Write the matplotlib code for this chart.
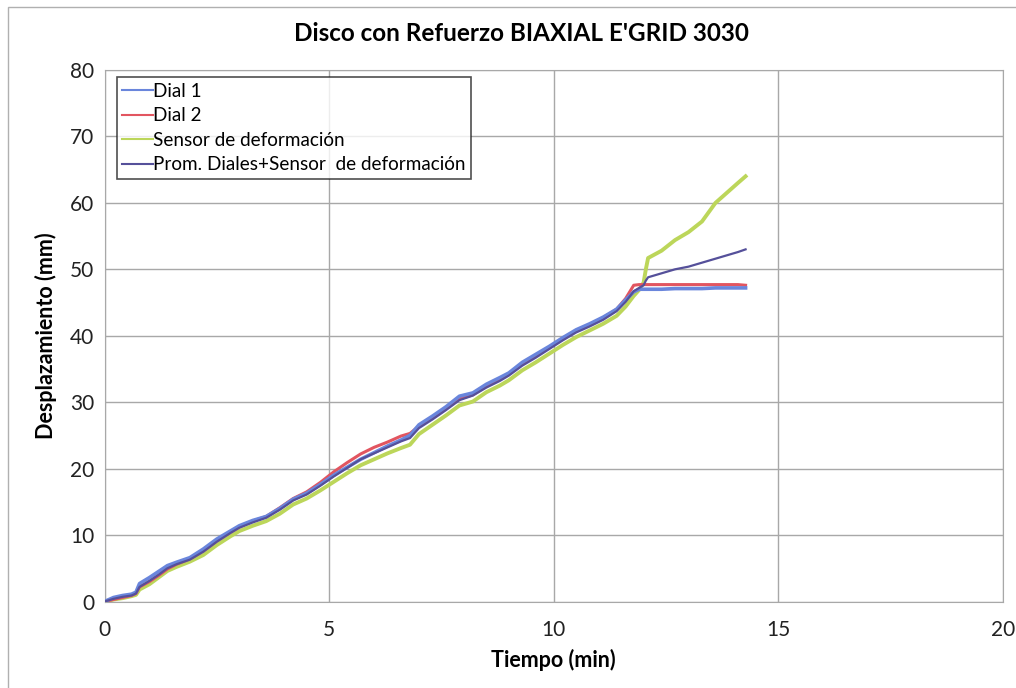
import matplotlib.pyplot as plt
from matplotlib.patches import Rectangle

# time (min) shared by all series
tiempo = [0, 0.2, 0.4, 0.6, 0.7, 0.78, 1.0, 1.2, 1.4, 1.6, 1.9, 2.2, 2.5, 2.8,
          3.0, 3.3, 3.6, 3.9, 4.2, 4.5, 4.8, 5.1, 5.4, 5.7, 6.0, 6.3, 6.6, 6.8,
          7.0, 7.3, 7.6, 7.9, 8.2, 8.5, 8.8, 9.0, 9.3, 9.6, 9.9, 10.2, 10.5,
          10.8, 11.1, 11.4, 11.6, 11.78, 11.9, 12.0, 12.05, 12.1, 12.4, 12.7,
          13.0, 13.3, 13.6, 13.9, 14.1, 14.27]

dial_1 = [0, 0.6, 0.9, 1.1, 1.4, 2.7, 3.6, 4.5, 5.4, 5.9, 6.6, 7.9, 9.4, 10.6,
          11.4, 12.2, 12.8, 14.0, 15.4, 16.3, 17.6, 19.0, 20.2, 21.4, 22.4,
          23.4, 24.3, 25.0, 26.6, 27.9, 29.3, 30.9, 31.4, 32.7, 33.7, 34.4,
          36.0, 37.2, 38.4, 39.7, 40.9, 41.8, 42.8, 44.0, 45.4, 46.6, 47.0,
          47.0, 47.0, 47.0, 47.0, 47.1, 47.1, 47.1, 47.2, 47.2, 47.2, 47.2]

dial_2 = [0, 0.3, 0.6, 0.9, 1.2, 2.2, 3.0, 3.9, 4.9, 5.6, 6.4, 7.6, 9.1, 10.4,
          11.2, 12.1, 12.8, 14.1, 15.5, 16.5, 17.9, 19.5, 20.9, 22.2, 23.2,
          24.0, 24.9, 25.3, 26.4, 27.6, 29.0, 30.5, 31.1, 32.4, 33.4, 34.2,
          35.8, 37.0, 38.2, 39.5, 40.7, 41.6, 42.7, 44.0, 45.6, 47.6, 47.7,
          47.7, 47.7, 47.7, 47.7, 47.7, 47.7, 47.7, 47.7, 47.7, 47.7, 47.6]

sensor = [0, 0.3, 0.5, 0.8, 1.0, 1.8, 2.6, 3.6, 4.6, 5.2, 6.0, 7.0, 8.5, 9.8,
          10.6, 11.4, 12.1, 13.2, 14.6, 15.5, 16.7, 18.0, 19.3, 20.5, 21.4,
          22.3, 23.1, 23.6, 25.2, 26.6, 28.0, 29.5, 30.1, 31.5, 32.5, 33.3,
          34.8, 36.0, 37.3, 38.6, 39.8, 40.8, 41.8, 43.0, 44.4, 46.0, 46.9,
          48.0, 50.0, 51.7, 52.8, 54.4, 55.6, 57.2, 60.0, 61.8, 63.0, 64.0]

promedio = [0, 0.4, 0.7, 0.9, 1.2, 2.2, 3.1, 4.0, 5.0, 5.6, 6.3, 7.5, 9.0, 10.3,
            11.1, 11.9, 12.6, 13.8, 15.2, 16.1, 17.4, 18.8, 20.1, 21.4, 22.3,
            23.2, 24.1, 24.6, 26.1, 27.4, 28.8, 30.3, 31.0, 32.2, 33.2, 34.0,
            35.5, 36.7, 38.0, 39.3, 40.5, 41.4, 42.4, 43.7, 45.1, 46.7, 47.2,
            47.6, 48.3, 48.8, 49.4, 50.0, 50.4, 51.0, 51.6, 52.2, 52.6, 53.0]

series = [
    ('Dial 1', dial_1, '#6a86dc', 2.6),
    ('Dial 2', dial_2, '#e25560', 2.2),
    ('Sensor de deformación', sensor, '#bcd65a', 2.8),
    ('Prom. Diales+Sensor  de deformación', promedio, '#55509a', 1.6),
]

plt.rcParams['font.family'] = ['Lato', 'DejaVu Sans']

fig = plt.figure(figsize=(10.16, 6.88), dpi=100)
ax = fig.add_axes([104.5 / 1016, 1 - 601.5 / 688, (1003 - 104.5) / 1016, (601.5 - 70) / 688])

# z-order so the blue sits on top like in the picture
order = {'Dial 1': 4, 'Dial 2': 3, 'Sensor de deformación': 2,
         'Prom. Diales+Sensor  de deformación': 5}
for name, vals, color, lw in series:
    ax.plot(tiempo, vals, color=color, lw=lw, label=name, zorder=order[name])

ax.set_xlim(0, 20)
ax.set_ylim(0, 80)
ax.set_xticks([0, 5, 10, 15, 20])
ax.set_yticks(range(0, 81, 10))
ax.grid(True, color='#a8a8a8', lw=1)
ax.set_axisbelow(True)
for sp in ax.spines.values():
    sp.set_color('#a8a8a8')
ax.tick_params(length=0, labelsize=15, colors='#222222', pad=13)
ax.tick_params(axis='y', pad=7.5)

ax.set_xlabel('Tiempo (min)', fontsize=15.5, fontweight='bold', labelpad=7)
ax.set_ylabel('Desplazamiento (mm)', fontsize=15.5, fontweight='bold', labelpad=9)
fig.text(0.513, 0.952, "Disco con Refuerzo BIAXIAL E'GRID 3030",
         ha='center', va='center', fontsize=17.5, fontweight='bold')

leg = ax.legend(loc='upper left', bbox_to_anchor=(0.0136, 0.987), fontsize=13.6,
                frameon=True, fancybox=False, handlelength=1.6, handletextpad=0.0,
                borderpad=0.3, labelspacing=0.4, borderaxespad=0)
leg.get_frame().set_edgecolor('#222222')
leg.get_frame().set_linewidth(1.2)
for line in leg.get_lines():
    line.set_linewidth(1.5)

# outer chart border, cut off at the right and bottom
fig.patches.append(Rectangle((8 / 1016, -0.05), 1.1, 1 - 7 / 688 + 0.05,
                             transform=fig.transFigure, fill=False,
                             edgecolor='#b0b0b0', lw=1))

fig.savefig('out.png', dpi=100)
